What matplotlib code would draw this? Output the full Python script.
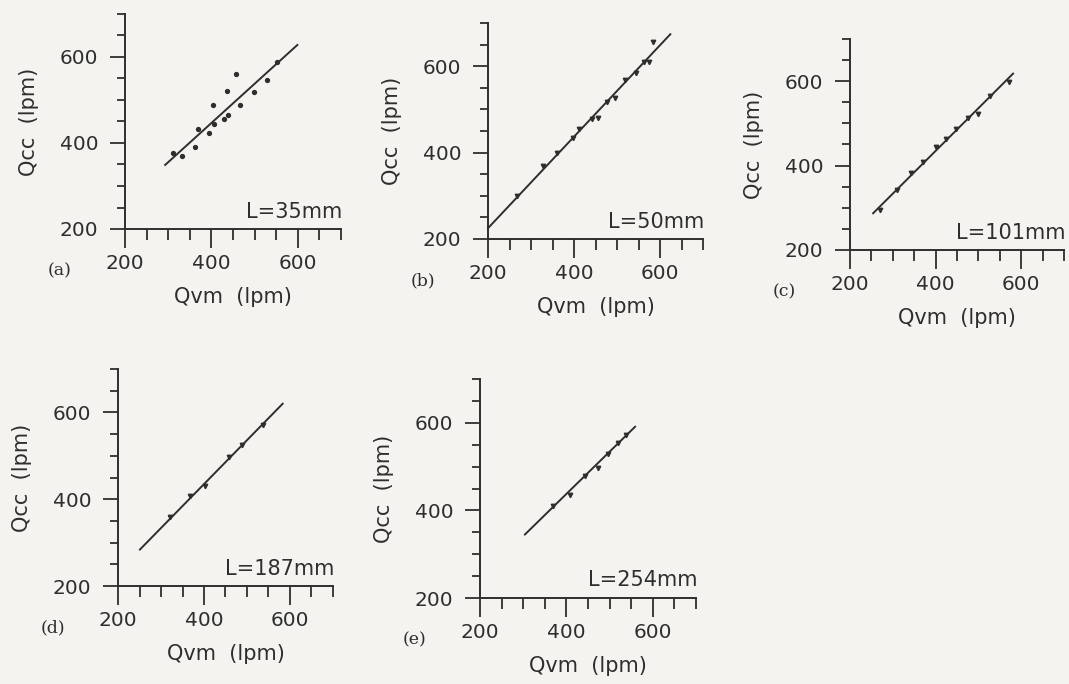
import numpy as np
import matplotlib
matplotlib.use('Agg')
import matplotlib.pyplot as plt
from matplotlib.ticker import MultipleLocator

qvm_a = [312, 333, 363, 369, 394, 404, 405, 430, 436, 438, 457, 467, 498, 529, 551]
qcc_a = [377, 370, 390, 433, 424, 488, 444, 455, 522, 465, 560, 488, 519, 546, 588]
fit_a_x = [293, 599]
fit_a_y = [349, 628]

qvm_b = [267, 328, 360, 398, 411, 442, 455, 477, 496, 519, 545, 562, 575, 584]
qcc_b = [300, 368, 399, 433, 455, 477, 479, 517, 527, 567, 585, 609, 610, 657]
fit_b_x = [200, 624]
fit_b_y = [225, 674]

qvm_c = [271, 309, 343, 370, 402, 425, 448, 475, 498, 526, 572]
qcc_c = [295, 342, 382, 409, 443, 464, 486, 512, 523, 564, 598]
fit_c_x = [254, 581]
fit_c_y = [287, 618]

qvm_d = [321, 367, 402, 457, 488, 538]
qcc_d = [359, 407, 430, 498, 525, 571]
fit_d_x = [251, 583]
fit_d_y = [284, 620]

qvm_e = [370, 408, 443, 472, 497, 520, 538]
qcc_e = [409, 436, 478, 497, 528, 554, 573]
fit_e_x = [304, 559]
fit_e_y = [345, 591]

lengths = ['L=35mm', 'L=50mm', 'L=101mm', 'L=187mm', 'L=254mm']
panels = ['(a)', '(b)', '(c)', '(d)', '(e)']

W, H = 1069, 684
# axes boxes in pixels: left, top (y=700), right (x=700), bottom (y=200)
boxes = [
    (125, 14, 341, 229),
    (488, 23, 703, 239),
    (850, 39, 1064, 250),
    (118, 369, 333, 586),
    (480, 379, 696, 598),
]

ink = '#2e2e2e'
bg = '#f4f3f0'

plt.rcParams['font.family'] = 'DejaVu Sans'
fig = plt.figure(figsize=(W / 100, H / 100), dpi=100, facecolor=bg)

data = [
    (qvm_a, qcc_a, fit_a_x, fit_a_y),
    (qvm_b, qcc_b, fit_b_x, fit_b_y),
    (qvm_c, qcc_c, fit_c_x, fit_c_y),
    (qvm_d, qcc_d, fit_d_x, fit_d_y),
    (qvm_e, qcc_e, fit_e_x, fit_e_y),
]

for i, (xs, ys, fx, fy) in enumerate(data):
    l, t, r, b = boxes[i]
    ax = fig.add_axes([l / W, 1 - b / H, (r - l) / W, (b - t) / H])
    ax.set_facecolor('none')
    ax.plot(fx, fy, color=ink, lw=1.4, clip_on=False)
    if i == 0:
        ax.plot(xs, ys, 'o', color=ink, ms=2.8, clip_on=False)
    else:
        ax.plot(xs, ys, 'v', color=ink, ms=3.2, clip_on=False)

    ax.set_xlim(200, 700)
    ax.set_ylim(200, 700)
    for s in ['top', 'right']:
        ax.spines[s].set_visible(False)
    for s in ['left', 'bottom']:
        ax.spines[s].set_color(ink)
        ax.spines[s].set_linewidth(1.4)

    ax.xaxis.set_minor_locator(MultipleLocator(50))
    ax.yaxis.set_minor_locator(MultipleLocator(50))
    ax.set_xticks([200, 400, 600])
    ax.set_yticks([200, 400, 600])

    ax.tick_params(axis='x', which='major', direction='out', length=14, width=1.3,
                   color=ink, labelcolor=ink, labelsize=14.5, pad=4)
    ax.tick_params(axis='x', which='minor', direction='out', length=8, width=1.3, color=ink)
    ax.tick_params(axis='y', which='major', direction='out', length=11, width=1.3,
                   color=ink, labelcolor=ink, labelsize=14.5, pad=8)
    ax.tick_params(axis='y', which='minor', direction='out', length=6, width=1.3, color=ink)

    ax.set_xlabel('Qvm  (lpm)', fontsize=15, color=ink, labelpad=10)
    ax.set_ylabel('Qcc  (lpm)', fontsize=15, color=ink, labelpad=15)

    ax.text(1.005, 0.08, lengths[i], transform=ax.transAxes, ha='right', va='center',
            fontsize=15, color=ink)

    # panel tag, under the lower-left corner
    ax.annotate(panels[i], xy=(0, 0), xycoords='axes fraction',
                xytext=(-56, -30), textcoords='offset points',
                fontsize=12.5, family='DejaVu Serif', color=ink, va='center')

fig.savefig('out.png', dpi=100, facecolor=bg)
